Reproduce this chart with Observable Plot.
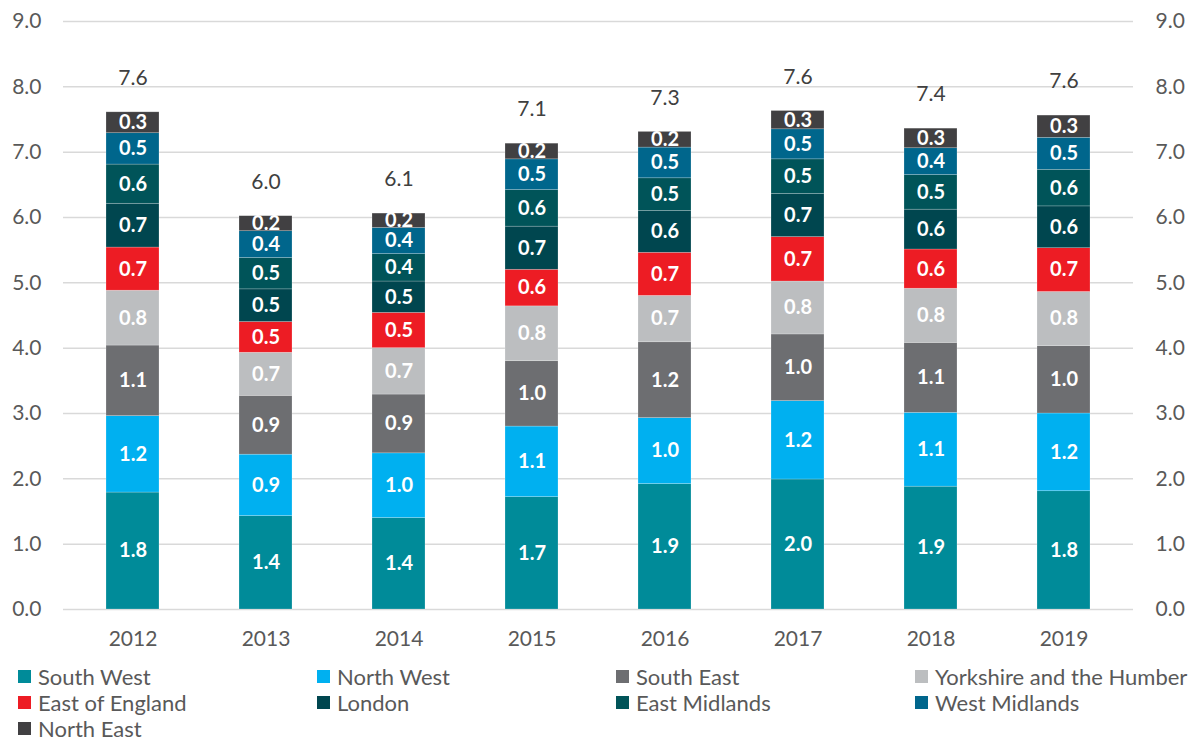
<!DOCTYPE html>
<html><head><meta charset="utf-8">
<script src="https://cdn.jsdelivr.net/npm/d3@7"></script>
<script src="https://cdn.jsdelivr.net/npm/@observablehq/plot@0.6"></script>
<style>
body{margin:0;background:#fff;font-family:Lato,sans-serif;}
#legend{display:grid;grid-template-columns:299px 299px 299px 283px;margin-left:18px;margin-top:8px;}
.item{display:flex;align-items:center;height:26px;font-size:22px;color:#595959;white-space:nowrap;}
.sw{width:13px;height:13px;margin-right:7px;flex:none;}
</style></head><body>
<div id="chart"></div><div id="legend"></div>
<script>
const years = ["2012","2013","2014","2015","2016","2017","2018","2019"];
const regions = ["South West","North West","South East","Yorkshire and the Humber","East of England","London","East Midlands","West Midlands","North East"];
const colors = ["#008b99","#00b0f0","#6d6e71","#bcbec0","#ed1c24","#00464f","#005459","#00668c","#414042"];

const southWest     = [1.79,1.43,1.40,1.72,1.92,1.99,1.88,1.81];
const northWest     = [1.17,0.94,0.99,1.08,1.01,1.20,1.13,1.19];
const southEast     = [1.08,0.90,0.90,1.00,1.16,1.02,1.07,1.03];
const yorkshire     = [0.84,0.66,0.71,0.84,0.71,0.81,0.83,0.83];
const eastOfEngland = [0.66,0.47,0.54,0.56,0.66,0.68,0.60,0.67];
const london        = [0.67,0.50,0.48,0.66,0.64,0.66,0.61,0.64];
const eastMidlands  = [0.60,0.48,0.42,0.56,0.50,0.53,0.53,0.56];
const westMidlands  = [0.48,0.41,0.40,0.47,0.47,0.46,0.41,0.49];
const northEast     = [0.32,0.23,0.22,0.24,0.24,0.28,0.30,0.34];
const yTicks = [0,1,2,3,4,5,6,7,8,9];

const series = [southWest,northWest,southEast,yorkshire,eastOfEngland,london,eastMidlands,westMidlands,northEast];
const data = [];
regions.forEach((r,i)=>years.forEach((y,j)=>data.push({year:y, region:r, value:series[i][j]})));
const totals = years.map((y,j)=>({year:y, total:d3.sum(series, s=>s[j])}));

const chart = Plot.plot({
  width:1198, height:655,
  marginLeft:63, marginRight:65, marginTop:21, marginBottom:46,
  style:{fontFamily:"Lato, sans-serif", fontSize:"21px", color:"#595959", background:"white"},
  x:{domain:years, paddingInner:0.6, paddingOuter:0.3, label:null},
  y:{domain:[0,9], label:null},
  color:{domain:regions, range:colors},
  marks:[
    Plot.gridY(yTicks, {stroke:"#d9d9d9", strokeOpacity:1, strokeWidth:1.5}),
    Plot.barY(data, {x:"year", y:"value", fill:"region", stroke:"white", strokeWidth:0.6, strokeOpacity:0.35}),
    Plot.text(data, Plot.stackY({x:"year", y:"value", z:"region", text:d=>d.value.toFixed(1), fill:"white", fontWeight:"bold", fontSize:20})),
    Plot.text(totals, {x:"year", y:"total", text:d=>d.total.toFixed(1), dy:-34, fill:"#404040", fontSize:21}),
    Plot.axisY(yTicks, {anchor:"left", tickSize:0, tickPadding:22, tickFormat:d3.format(".1f"), label:null, color:"#595959", fontSize:21}),
    Plot.axisY(yTicks, {anchor:"right", tickSize:0, tickPadding:22, tickFormat:d3.format(".1f"), label:null, color:"#595959", fontSize:21}),
    Plot.axisX({tickSize:0, tickPadding:22, label:null, color:"#595959", fontSize:21})
  ]
});
document.getElementById("chart").appendChild(chart);

const legend = document.getElementById("legend");
regions.forEach((r,i)=>{
  const it = document.createElement("div"); it.className="item";
  const sw = document.createElement("span"); sw.className="sw"; sw.style.background=colors[i];
  const tx = document.createElement("span"); tx.textContent=r;
  it.appendChild(sw); it.appendChild(tx); legend.appendChild(it);
});
</script>
</body></html>
